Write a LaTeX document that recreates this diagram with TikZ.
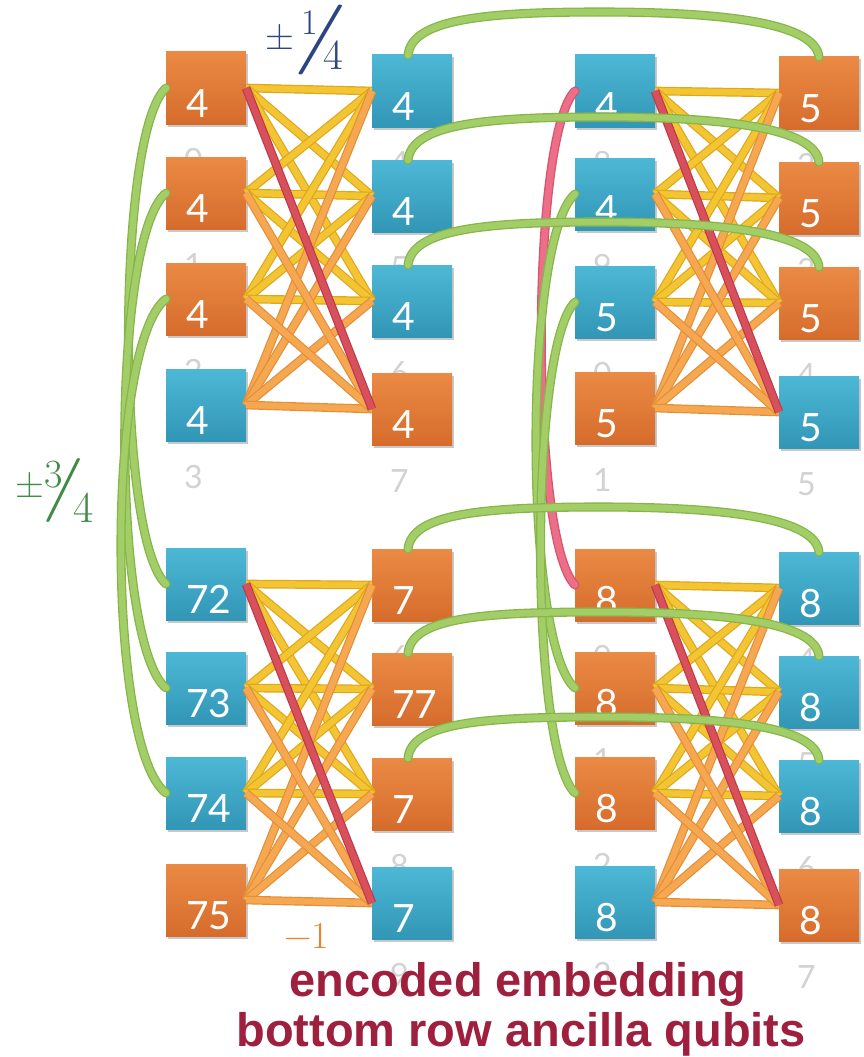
\documentclass[tikz,border=0pt]{standalone}
\usepackage{fontspec}
\usepackage{graphicx}
\newfontfamily\boxfont{Lato}
\newfontfamily\capfont{Liberation Sans}
\usetikzlibrary{shadows}
\definecolor{orTop}{HTML}{EA8A44}
\definecolor{orBot}{HTML}{D66C2C}
\definecolor{blTop}{HTML}{4DB8D6}
\definecolor{blBot}{HTML}{3296B6}
\definecolor{yelI}{HTML}{F3C533}
\definecolor{yelO}{HTML}{DDA71E}
\definecolor{orgI}{HTML}{F6A851}
\definecolor{orgO}{HTML}{E38E3A}
\definecolor{redI}{HTML}{D9505D}
\definecolor{redO}{HTML}{BD3A48}
\definecolor{grnI}{HTML}{A3CD66}
\definecolor{grnO}{HTML}{86B64B}
\definecolor{pnkI}{HTML}{EC6F87}
\definecolor{pnkO}{HTML}{D4566E}
\definecolor{ghostc}{HTML}{D2D2D2}
\definecolor{capc}{HTML}{9F1F3E}
\definecolor{fracblue}{HTML}{2C4580}
\definecolor{fracgreen}{HTML}{3E8C45}
\definecolor{minusor}{HTML}{E8852E}
\newcommand\ghostlbl[4]{\node[ghosttext] (#1) at (#2+18,#3+119) {#4};}
\newcommand\qubitbox[5]{%
  \node[#4] (#1) at (#2,#3) {};
  \node[numtext] (#1t) at ([shift={(20,-7)}]#1.south west) {#5};}
\newcommand\fs[1]{\fontsize{#1}{#1}\selectfont}
\begin{document}
\begin{tikzpicture}[x=1pt,y=-1pt,
  qbox/.style={rectangle, anchor=north west, minimum width=80pt, minimum height=72pt,
     inner sep=0pt, outer sep=0pt,
     drop shadow={shadow xshift=1.5pt, shadow yshift=-2.5pt, opacity=0.3, fill=black!70}},
  obox/.style={qbox, top color=orTop, bottom color=orBot},
  bbox/.style={qbox, top color=blTop, bottom color=blBot},
  numtext/.style={anchor=base west, inner sep=0pt, text=white,
     font=\boxfont\fontsize{39}{39}\selectfont},
  ghosttext/.style={anchor=base west, inner sep=0pt, text=ghostc,
     font=\boxfont\fontsize{32}{32}\selectfont},
  yedge/.style={draw=yelO, double=yelI, double distance=6.3pt, line width=1.2pt},
  oedge/.style={draw=orgO, double=orgI, double distance=6.3pt, line width=1.2pt},
  redge/.style={draw=redO, double=redI, double distance=6.3pt, line width=1.2pt},
  gedge/.style={draw=grnO, double=grnI, double distance=6.5pt, line width=1.3pt, line cap=round},
  pedge/.style={draw=pnkO, double=pnkI, double distance=6.5pt, line width=1.3pt, line cap=round},
  captext/.style={anchor=base, inner sep=0pt, text=capc,
     font=\capfont\bfseries\fontsize{47}{47}\selectfont},
  fractext/.style={anchor=base west, inner sep=0pt}
]
\fill[white] (0,0) rectangle (864,1057);
\useasboundingbox (0,0) rectangle (864,1057);

% ---- cell A (top left)
\ghostlbl{A-L1g}{166}{52}{0}\qubitbox{A-L1}{166}{52}{obox}{4}
\ghostlbl{A-L2g}{166}{157}{1}\qubitbox{A-L2}{166}{157}{obox}{4}
\ghostlbl{A-L3g}{166}{263}{2}\qubitbox{A-L3}{166}{263}{obox}{4}
\ghostlbl{A-L4g}{166}{369}{3}\qubitbox{A-L4}{166}{369}{bbox}{4}
\ghostlbl{A-R1g}{372}{55}{4}\qubitbox{A-R1}{372}{55}{bbox}{4}
\ghostlbl{A-R2g}{372}{160}{5}\qubitbox{A-R2}{372}{160}{bbox}{4}
\ghostlbl{A-R3g}{372}{265}{6}\qubitbox{A-R3}{372}{265}{bbox}{4}
\ghostlbl{A-R4g}{372}{373}{7}\qubitbox{A-R4}{372}{373}{obox}{4}
% ---- cell B (top right)
\ghostlbl{B-L1g}{575}{55}{8}\qubitbox{B-L1}{575}{55}{bbox}{4}
\ghostlbl{B-L2g}{575}{158}{9}\qubitbox{B-L2}{575}{158}{bbox}{4}
\ghostlbl{B-L3g}{575}{266}{0}\qubitbox{B-L3}{575}{266}{bbox}{5}
\ghostlbl{B-L4g}{575}{372}{1}\qubitbox{B-L4}{575}{372}{obox}{5}
\ghostlbl{B-R1g}{779}{57}{2}\qubitbox{B-R1}{779}{57}{obox}{5}
\ghostlbl{B-R2g}{779}{162}{3}\qubitbox{B-R2}{779}{162}{obox}{5}
\ghostlbl{B-R3g}{779}{267}{4}\qubitbox{B-R3}{779}{267}{obox}{5}
\ghostlbl{B-R4g}{779}{376}{5}\qubitbox{B-R4}{779}{376}{bbox}{5}
% ---- cell C (bottom left)
\qubitbox{C-L1}{166}{548}{bbox}{72}
\qubitbox{C-L2}{166}{652}{bbox}{73}
\qubitbox{C-L3}{166}{757}{bbox}{74}
\qubitbox{C-L4}{166}{864}{obox}{75}
\ghostlbl{C-R1g}{372}{549}{6}\qubitbox{C-R1}{372}{549}{obox}{7}
\qubitbox{C-R2}{372}{653}{obox}{77}
\ghostlbl{C-R3g}{372}{758}{8}\qubitbox{C-R3}{372}{758}{obox}{7}
\ghostlbl{C-R4g}{372}{867}{9}\qubitbox{C-R4}{372}{867}{bbox}{7}
% ---- cell D (bottom right)
\ghostlbl{D-L1g}{575}{549}{0}\qubitbox{D-L1}{575}{549}{obox}{8}
\ghostlbl{D-L2g}{575}{652}{1}\qubitbox{D-L2}{575}{652}{obox}{8}
\ghostlbl{D-L3g}{575}{757}{2}\qubitbox{D-L3}{575}{757}{obox}{8}
\ghostlbl{D-L4g}{575}{866}{3}\qubitbox{D-L4}{575}{866}{bbox}{8}
\ghostlbl{D-R1g}{779}{552}{4}\qubitbox{D-R1}{779}{552}{bbox}{8}
\ghostlbl{D-R2g}{779}{656}{5}\qubitbox{D-R2}{779}{656}{bbox}{8}
\ghostlbl{D-R3g}{779}{760}{6}\qubitbox{D-R3}{779}{760}{bbox}{8}
\ghostlbl{D-R4g}{779}{869}{7}\qubitbox{D-R4}{779}{869}{obox}{8}

% ---- intra-cell couplers
\foreach \c in {A,B,C,D}{
  \foreach \i in {1,2,3}{\foreach \j in {1,2,3}{\draw[yedge] (\c-L\i.east) -- (\c-R\j.west);}}
  \foreach \j in {1,2,3,4}{\draw[oedge] (\c-L4.east) -- (\c-R\j.west);}
  \foreach \i in {2,3}{\draw[oedge] (\c-L\i.east) -- (\c-R4.west);}
  \draw[redge] (\c-L1.east) -- (\c-R4.west);
}

% ---- vertical inter-cell couplers
\draw[gedge] (A-L1.west) .. controls +(-50,45) and +(-50,-45) .. (C-L1.west);
\draw[gedge] (A-L2.west) .. controls +(-55,45) and +(-55,-45) .. (C-L2.west);
\draw[gedge] (A-L3.west) .. controls +(-60,45) and +(-60,-45) .. (C-L3.west);
\draw[pedge] (B-L1.west) .. controls +(-45,45) and +(-45,-45) .. (D-L1.west);
\draw[gedge] (B-L2.west) .. controls +(-52,45) and +(-52,-45) .. (D-L2.west);
\draw[gedge] (B-L3.west) .. controls +(-46,45) and +(-46,-45) .. (D-L3.west);

% ---- horizontal inter-cell couplers
\draw[gedge] ([xshift=-4pt]A-R1.north) .. controls +(4,-35) and +(-120,0) .. (600,12) .. controls +(120,0) and +(-4,-35) .. (B-R1.north);
\draw[gedge] ([xshift=-4pt]A-R2.north) .. controls +(4,-35) and +(-120,0) .. (600,117) .. controls +(120,0) and +(-4,-35) .. (B-R2.north);
\draw[gedge] ([xshift=-4pt]A-R3.north) .. controls +(4,-35) and +(-120,0) .. (600,222) .. controls +(120,0) and +(-4,-35) .. (B-R3.north);
\draw[gedge] ([xshift=-4pt]C-R1.north) .. controls +(4,-35) and +(-120,0) .. (600,507) .. controls +(120,0) and +(-4,-35) .. (D-R1.north);
\draw[gedge] ([xshift=-4pt]C-R2.north) .. controls +(4,-35) and +(-120,0) .. (600,612) .. controls +(120,0) and +(-4,-35) .. (D-R2.north);
\draw[gedge] ([xshift=-4pt]C-R3.north) .. controls +(4,-35) and +(-120,0) .. (600,717) .. controls +(120,0) and +(-4,-35) .. (D-R3.north);

% ---- labels
\node[fractext, text=fracblue] (fq) at (265,50) {%
  \rlap{\fs{40}±}%
  \rlap{\kern 28pt\raisebox{-7.5pt}{\scalebox{1.7}[1]{\fs{70}/}}}%
  \rlap{\kern 36pt\raisebox{15pt}{\fs{36}1}}%
  \kern 58.7pt\raisebox{-20pt}{\fs{43}4}};
\node[fractext, text=fracgreen] (tq) at (15,497) {%
  \rlap{\fs{40}±}%
  \rlap{\kern 27.5pt\raisebox{-9pt}{\scalebox{1.44}[1]{\fs{64}/}}}%
  \rlap{\kern 29pt\raisebox{10pt}{\fs{40}3}}%
  \kern 58.7pt\raisebox{-25pt}{\fs{44}4}};
\node[fractext, text=minusor] (m1) at (284,948) {\fs{38}−1};
\node[captext] (cap1) at (518,996) {encoded embedding};
\node[captext] (cap2) at (521,1046) {bottom row ancilla qubits};
\end{tikzpicture}
\end{document}
